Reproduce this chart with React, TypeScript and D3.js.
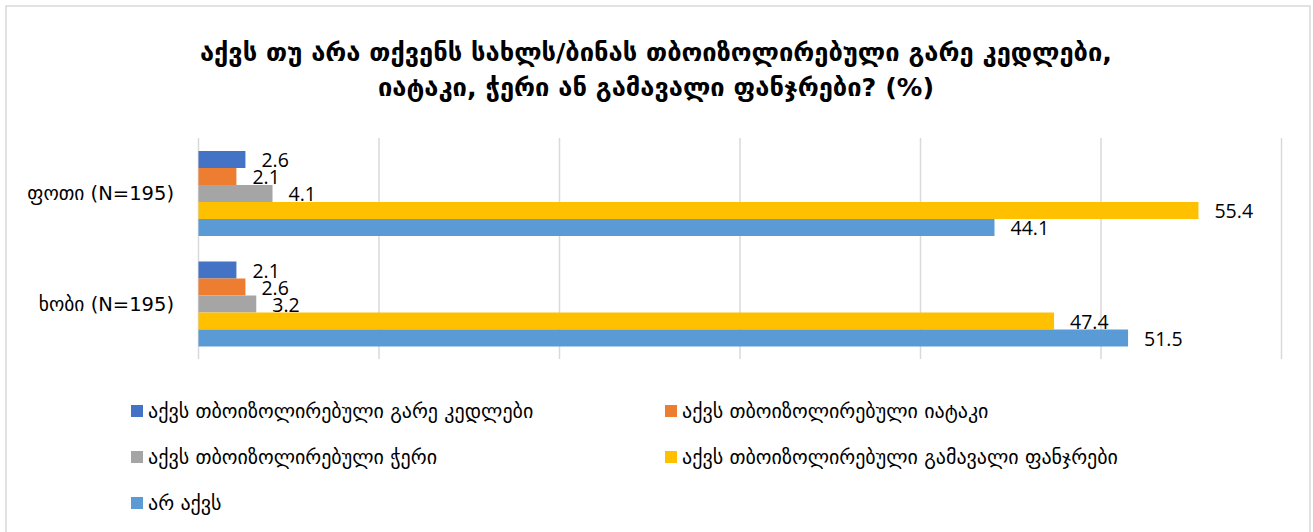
import React from "react";
import * as d3 from "d3";

const categories = ["ფოთი (N=195)", "ხობი (N=195)"];
const seriesNames = [
  "აქვს თბოიზოლირებული გარე კედლები",
  "აქვს თბოიზოლირებული იატაკი",
  "აქვს თბოიზოლირებული ჭერი",
  "აქვს თბოიზოლირებული გამავალი ფანჯრები",
  "არ აქვს",
];
const seriesColors = ["#4472C4", "#ED7D31", "#A5A5A5", "#FFC000", "#5B9BD5"];
const potiValues = [2.6, 2.1, 4.1, 55.4, 44.1];
const khobiValues = [2.1, 2.6, 3.2, 47.4, 51.5];
const gridTicks = [0, 10, 20, 30, 40, 50, 60];
const titleLines = [
  "აქვს თუ არა თქვენს სახლს/ბინას თბოიზოლირებული გარე კედლები,",
  "იატაკი, ჭერი ან გამავალი ფანჯრები? (%)",
];

const W = 1313;
const H = 532;
const geo = "'DejaVu Sans', sans-serif";
const num = "'Open Sans', 'DejaVu Sans', sans-serif";

export default function App() {
  const values = [potiValues, khobiValues];
  const x = d3.scaleLinear().domain([0, 60]).range([198.5, 1281.5]);
  const y = d3.scaleBand<string>().domain(categories).range([138.25, 359.25]).paddingInner(0).paddingOuter(0);
  const groupH = y.bandwidth() * (5 / 6.5);
  const inner = d3
    .scaleBand<number>()
    .domain(d3.range(seriesNames.length))
    .range([0, groupH]);
  const groupOffset = (y.bandwidth() - groupH) / 2;

  const legendRows = [
    { i: 0, col: 0, row: 0 },
    { i: 1, col: 1, row: 0 },
    { i: 2, col: 0, row: 1 },
    { i: 3, col: 1, row: 1 },
    { i: 4, col: 0, row: 2 },
  ];
  const legendX = [131, 665];
  const legendY = [411, 457, 503];

  return (
    <svg
      width={W}
      height={H}
      style={{ position: "absolute", left: 0, top: 0, background: "#fff" }}
    >
      <rect x={0} y={0} width={W} height={H} fill="#fff" />
      <rect x={6} y={6} width={1304} height={540} fill="#fff" stroke="#D9D9D9" strokeWidth={1.5} />
      {titleLines.map((t, i) => (
        <text
          key={i}
          x={656}
          y={61 + i * 35}
          textAnchor="middle"
          fontFamily={geo}
          fontWeight="bold"
          fontSize={25.5}
          fill="#000"
        >
          {t}
        </text>
      ))}
      {gridTicks.map((t) => (
        <line
          key={t}
          x1={x(t)}
          x2={x(t)}
          y1={138}
          y2={359}
          stroke="#D9D9D9"
          strokeWidth={1.5}
        />
      ))}
      {categories.map((c, ci) => (
        <g key={c}>
          {values[ci].map((v, si) => {
            const by = (y(c) as number) + groupOffset + (inner(si) as number);
            return (
              <g key={si}>
                <rect
                  x={x(0)}
                  y={by}
                  width={x(v) - x(0)}
                  height={inner.bandwidth()}
                  fill={seriesColors[si]}
                />
                <text
                  x={x(v) + 16}
                  y={by + inner.bandwidth() / 2}
                  dominantBaseline="central"
                  fontFamily={num}
                  fontSize={19.5}
                  fill="#000"
                >
                  {v.toFixed(1)}
                </text>
              </g>
            );
          })}
          <text
            x={174}
            y={(y(c) as number) + y.bandwidth() / 2}
            textAnchor="end"
            dominantBaseline="central"
            fontFamily={geo}
            fontSize={19.5}
            fill="#000"
          >
            {c}
          </text>
        </g>
      ))}
      {legendRows.map(({ i, col, row }) => (
        <g key={i}>
          <rect x={legendX[col]} y={legendY[row] - 6} width={12} height={12} fill={seriesColors[i]} />
          <text
            x={legendX[col] + 17}
            y={legendY[row]}
            dominantBaseline="central"
            fontFamily={geo}
            fontSize={20}
            fill="#000"
          >
            {seriesNames[i]}
          </text>
        </g>
      ))}
    </svg>
  );
}
